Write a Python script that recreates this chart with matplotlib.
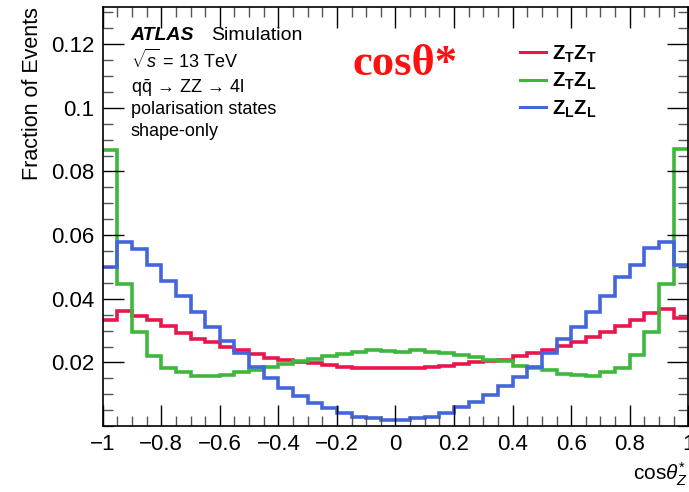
import numpy as np
import matplotlib
matplotlib.use("Agg")
import matplotlib.pyplot as plt
from matplotlib.ticker import MultipleLocator, FixedFormatter, FixedLocator

plt.rcParams['font.family'] = ['Liberation Sans', 'DejaVu Sans']
plt.rcParams['mathtext.fontset'] = 'custom'
plt.rcParams['mathtext.rm'] = 'Liberation Sans'
plt.rcParams['mathtext.it'] = 'Liberation Sans:italic'
plt.rcParams['mathtext.bf'] = 'Liberation Sans:bold'

# -------------------------------------------------------------------------------------------------------------------------------------------

# 40 bins of cos(theta*) in [-1, 1]
edges = np.linspace(-1, 1, 41)

ztzt = [0.0332, 0.0363, 0.0347, 0.0332, 0.0315, 0.0293, 0.0275, 0.0263, 0.0249, 0.0238,
        0.0227, 0.0215, 0.0208, 0.0202, 0.0197, 0.0193, 0.0187, 0.0184, 0.0181, 0.0182,
        0.0181, 0.0183, 0.0186, 0.0190, 0.0196, 0.0201, 0.0206, 0.0208, 0.0219, 0.0229,
        0.0239, 0.0252, 0.0265, 0.0279, 0.0295, 0.0313, 0.0332, 0.0355, 0.0369, 0.0341]

ztzl = [0.0868, 0.0446, 0.0297, 0.0219, 0.0182, 0.0170, 0.0158, 0.0157, 0.0161, 0.0170,
        0.0177, 0.0187, 0.0196, 0.0204, 0.0212, 0.0219, 0.0226, 0.0232, 0.0238, 0.0236,
        0.0234, 0.0239, 0.0234, 0.0229, 0.0224, 0.0217, 0.0208, 0.0205, 0.0190, 0.0181,
        0.0175, 0.0163, 0.0161, 0.0158, 0.0169, 0.0184, 0.0222, 0.0297, 0.0446, 0.0872]

zlzl = [0.0500, 0.0577, 0.0556, 0.0507, 0.0457, 0.0409, 0.0358, 0.0310, 0.0268, 0.0231,
        0.0186, 0.0151, 0.0121, 0.0095, 0.0074, 0.0058, 0.0041, 0.0030, 0.0024, 0.0020,
        0.0020, 0.0024, 0.0030, 0.0041, 0.0059, 0.0076, 0.0098, 0.0125, 0.0153, 0.0187,
        0.0229, 0.0274, 0.0310, 0.0358, 0.0410, 0.0468, 0.0507, 0.0561, 0.0577, 0.0507]

labels = [r'$\mathbf{Z_{T}Z_{T}}$', r'$\mathbf{Z_{T}Z_{L}}$', r'$\mathbf{Z_{L}Z_{L}}$']
colors = ['#e8174b', '#3db83d', '#4466dd']

# -------------------------------------------------------------------------------------------------------------------------------------------

fig = plt.figure(figsize=(6.89, 4.92), dpi=100)
ax = fig.add_axes([0.149, 0.134, 0.85, 0.852])

for vals, lab, col in zip([ztzt, ztzl, zlzl], labels, colors):
    ax.stairs(vals, edges, baseline=None, color=col, lw=2.6, label=lab)

ax.set_xlim(-1, 1)
ax.set_ylim(0, 0.1317)

ax.xaxis.set_minor_locator(MultipleLocator(0.05))
ax.yaxis.set_major_locator(FixedLocator([0.02, 0.04, 0.06, 0.08, 0.1, 0.12]))
ax.yaxis.set_major_formatter(FixedFormatter(['0.02', '0.04', '0.06', '0.08', '0.1', '0.12']))
ax.yaxis.set_minor_locator(MultipleLocator(0.005))
ax.set_xticks([-1, -0.8, -0.6, -0.4, -0.2, 0, 0.2, 0.4, 0.6, 0.8, 1])
ax.set_xticklabels(['\u22121', '\u22120.8', '\u22120.6', '\u22120.4', '\u22120.2', '0', '0.2', '0.4', '0.6', '0.8', '1'])

ax.tick_params(which='both', direction='in', top=True, right=True, labelsize=16, width=1.0)
ax.tick_params(which='major', length=15, pad=6)
ax.tick_params(which='minor', length=7, color='#555555')
for s in ax.spines.values():
    s.set_linewidth(1.2)

ax.set_ylabel('Fraction of Events', fontsize=15.5, loc='top', labelpad=6)
ax.set_xlabel(r'cos$\theta^{*}_{Z}$', fontsize=15, loc='right', labelpad=4)

# ATLAS label block
ax.text(0.048, 0.92, 'ATLAS', transform=ax.transAxes, fontsize=14, fontweight='bold', style='italic')
ax.text(0.185, 0.92, 'Simulation', transform=ax.transAxes, fontsize=14)
ax.text(0.048, 0.855, r'$\sqrt{s}$ = 13 TeV', transform=ax.transAxes, fontsize=13)
ax.text(0.048, 0.795, 'q$\\bar{\\mathrm{q}}$ \u2192 ZZ \u2192 4l', transform=ax.transAxes, fontsize=13)
ax.text(0.048, 0.745, 'polarisation states', transform=ax.transAxes, fontsize=13)
ax.text(0.048, 0.692, 'shape-only', transform=ax.transAxes, fontsize=13)

ax.text(0.427, 0.838, 'cos\u03b8*', transform=ax.transAxes, fontsize=32, fontweight='bold',
        color='#ff1010', family=['Liberation Serif', 'DejaVu Serif'])

leg = ax.legend(loc='upper left', bbox_to_anchor=(0.698, 0.932), frameon=False, fontsize=14.5,
                handlelength=1.3, handletextpad=0.3, labelspacing=0.31, borderaxespad=0)
for h in leg.legend_handles:
    h.set_linewidth(2.2)

fig.savefig("out.png", dpi=100)
